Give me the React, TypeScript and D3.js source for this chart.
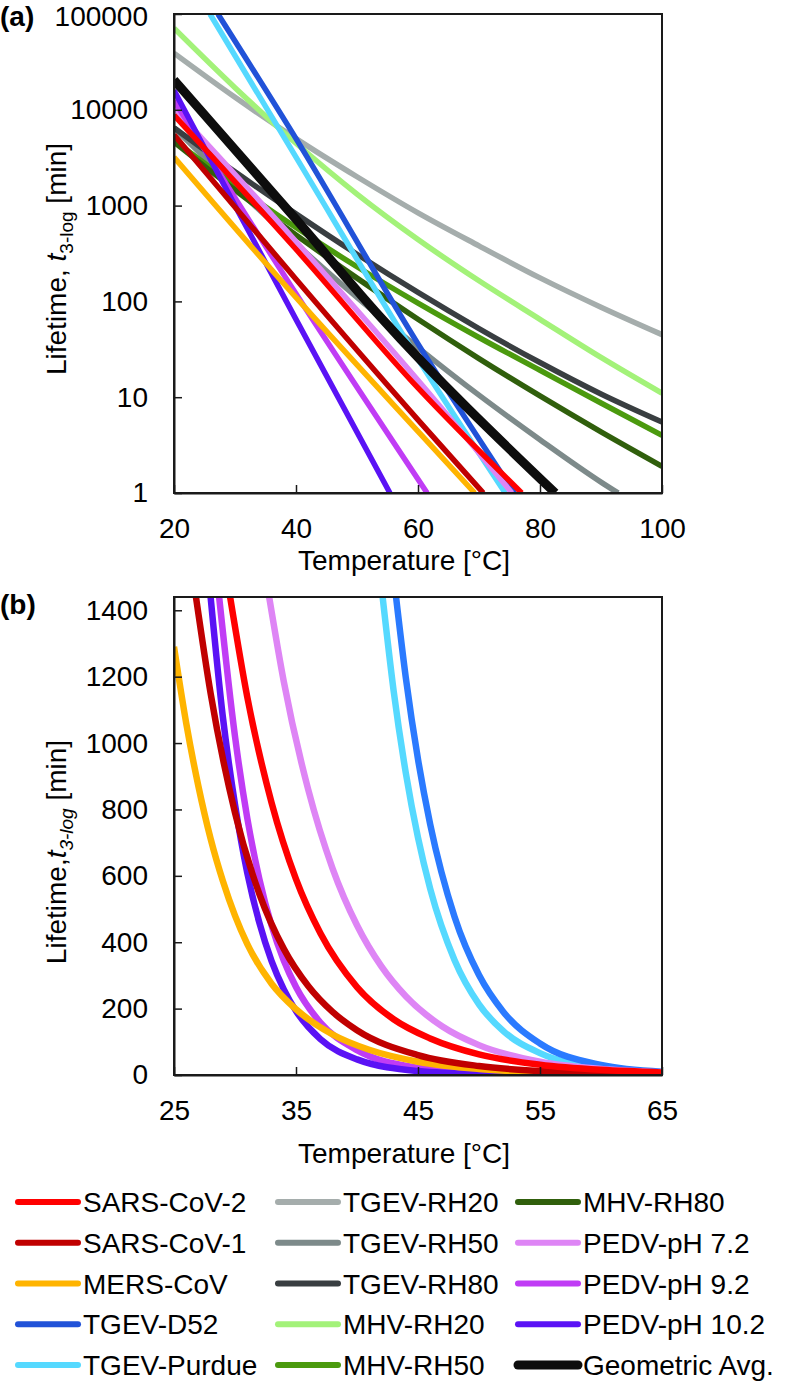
import React, { useEffect, useRef } from 'react';
import * as d3 from 'd3';

type Pt = [number, number];

const seriesNames = [
  'SARS-CoV-2', 'SARS-CoV-1', 'MERS-CoV', 'TGEV-D52', 'TGEV-Purdue',
  'TGEV-RH20', 'TGEV-RH50', 'TGEV-RH80', 'MHV-RH20', 'MHV-RH50',
  'MHV-RH80', 'PEDV-pH 7.2', 'PEDV-pH 9.2', 'PEDV-pH 10.2', 'Geometric Avg.',
];
const seriesColors = [
  '#ff0000', '#c00000', '#ffb400', '#2152d8', '#55d9ff',
  '#a5adac', '#7d8a8a', '#393e41', '#a3f279', '#4b9a0e',
  '#305f0c', '#de85f5', '#c03cf5', '#5a12f5', '#0d0d0d',
];

// panel (a): [temperature °C, lifetime min], log axis
const sarsCoV2A: Pt[] = [[20, 8800], [40, 350], [60, 12.5], [77, 1]];
const sarsCoV1A: Pt[] = [[20, 5500], [40, 170], [60, 5.8], [70.7, 1]];
const mersA: Pt[] = [[20, 3200], [40, 110], [60, 4.4], [69.3, 1]];
const tgevD52A: Pt[] = [[27.2, 100000], [40, 5000], [60, 36], [75.8, 1]];
const tgevPurdueA: Pt[] = [[25.9, 100000], [40, 3200], [60, 25], [74.3, 1]];
const tgevRH20A: Pt[] = [[20, 39000], [30, 13500], [40, 5000], [50, 2000], [60, 840], [70, 380], [80, 176], [90, 87], [100, 45]];
const tgevRH50A: Pt[] = [[20, 6500], [30, 1560], [40, 400], [50, 110], [60, 33], [70, 10.5], [80, 3.6], [90, 1.3], [92.8, 1]];
const tgevRH80A: Pt[] = [[20, 6500], [30, 2250], [40, 820], [50, 311], [60, 124], [70, 52], [80, 23], [90, 10.8], [100, 5.5]];
const mhvRH20A: Pt[] = [[20, 71000], [30, 17000], [40, 4480], [50, 1320], [60, 443], [70, 164], [80, 65], [90, 26], [100, 11]];
const mhvRH50A: Pt[] = [[20, 4800], [30, 1625], [40, 590], [50, 230], [60, 96], [70, 42], [80, 19.1], [90, 8.7], [100, 4]];
const mhvRH80A: Pt[] = [[20, 4600], [30, 1455], [40, 493], [50, 175], [60, 65], [70, 25.3], [80, 10.3], [90, 4.35], [100, 1.9]];
const pedv72A: Pt[] = [[20, 10500], [40, 420], [60, 15], [75.4, 1]];
const pedv92A: Pt[] = [[20, 12500], [40, 120], [61.5, 1]];
const pedv102A: Pt[] = [[20, 16000], [30, 1000], [40, 65], [55.4, 1]];
const geoAvgA: Pt[] = [[20, 20500], [40, 720], [53.8, 69], [82.5, 1]];

const panelA = [sarsCoV2A, sarsCoV1A, mersA, tgevD52A, tgevPurdueA, tgevRH20A, tgevRH50A,
  tgevRH80A, mhvRH20A, mhvRH50A, mhvRH80A, pedv72A, pedv92A, pedv102A, geoAvgA];
const orderA = [5, 6, 7, 8, 9, 10, 4, 3, 11, 12, 13, 2, 1, 0, 14];

// panel (b): linear axis
const sarsCoV2B: Pt[] = [[29.6, 1440], [31, 1140], [33, 820], [35, 590], [37, 427], [40, 265], [43, 168], [46, 110], [50, 62], [55, 31], [60, 15.5], [65, 7.7]];
const sarsCoV1B: Pt[] = [[26.8, 1440], [28, 1150], [30, 790], [32, 545], [34, 380], [36, 268], [38, 190], [40, 135], [45, 60], [50, 27], [55, 12], [60, 5.5], [65, 2.5]];
const mersB: Pt[] = [[25, 1290], [26, 1060], [27, 870], [28, 712], [29, 585], [30, 480], [31, 395], [33, 275], [35, 198], [38, 122], [41, 76], [45, 40], [50, 18], [55, 8.2], [60, 3.7], [65, 1.7]];
const tgevD52B: Pt[] = [[43.2, 1440], [44, 1197], [45, 951], [46, 755], [48, 476], [50, 301], [52, 190], [55, 95], [60, 30], [65, 9.5]];
const tgevPurdueB: Pt[] = [[42.1, 1440], [43, 1158], [44, 910], [45, 715], [46, 561], [48, 346], [50, 213], [52, 132], [55, 66], [60, 21], [65, 7]];
const pedv72B: Pt[] = [[32.8, 1440], [34, 1185], [36, 860], [38, 622], [40, 451], [42, 327], [44, 237], [47, 146], [50, 90], [55, 40], [60, 18], [65, 8]];
const pedv92B: Pt[] = [[28.7, 1440], [30, 1020], [31, 775], [32, 590], [33, 450], [34, 345], [35, 265], [37, 158], [40, 75], [45, 22], [50, 6.8], [55, 2.1], [60, 0.65], [65, 0.2]];
const pedv102B: Pt[] = [[28, 1440], [29, 1080], [30, 815], [31, 610], [32, 458], [33, 343], [34, 258], [35, 193], [37, 108], [40, 47], [45, 12], [50, 3], [55, 0.8], [60, 0.2], [65, 0.05]];

const panelB: [number, Pt[]][] = [
  [4, tgevPurdueB], [3, tgevD52B], [11, pedv72B], [12, pedv92B], [13, pedv102B],
  [2, mersB], [1, sarsCoV1B], [0, sarsCoV2B],
];
const colorB: Record<number, string> = { 3: '#2a7aff' };

const FONT = "'Liberation Sans', Arial, sans-serif";
const AXIS = '#1a1a1a';

function styleAxis(g: d3.Selection<SVGGElement, unknown, null, undefined>) {
  g.attr('font-size', 28).attr('font-family', FONT);
  g.select('.domain').attr('stroke', AXIS).attr('stroke-width', 2);
  g.selectAll('.tick line').attr('stroke', AXIS).attr('stroke-width', 1.5);
  g.selectAll('.tick text').attr('fill', '#000');
}

function yLabel(svg: any, x: number, y: number, italicSub: boolean, sep: string) {
  const t = svg.append('text')
    .attr('transform', `translate(${x},${y}) rotate(-90)`)
    .attr('text-anchor', 'middle').attr('font-size', 28).attr('font-family', FONT);
  t.append('tspan').text('Lifetime,' + sep);
  t.append('tspan').attr('font-style', 'italic').text('t');
  t.append('tspan').attr('font-size', 19).attr('dy', 7)
    .attr('font-style', italicSub ? 'italic' : 'normal').text('3-log');
  t.append('tspan').attr('dy', -7).text(' [min]');
}

export default function App() {
  const ref = useRef<SVGSVGElement>(null);

  useEffect(() => {
    const svg = d3.select(ref.current);
    svg.selectAll('*').remove();
    const defs = svg.append('defs');

    // ---------- panel (a)
    const xA = d3.scaleLinear().domain([20, 100]).range([174, 662]);
    const yA = d3.scaleLog().domain([1, 100000]).range([493, 14]);
    defs.append('clipPath').attr('id', 'clipA').append('rect')
      .attr('x', 174).attr('y', 14).attr('width', 488).attr('height', 479);

    const lineA = d3.line<Pt>().x(d => xA(d[0])).y(d => yA(d[1])).curve(d3.curveMonotoneX);
    const gA = svg.append('g').attr('clip-path', 'url(#clipA)');
    orderA.forEach(i => {
      gA.append('path').attr('d', lineA(panelA[i]))
        .attr('fill', 'none').attr('stroke', seriesColors[i])
        .attr('stroke-width', i === 14 ? 9 : 5.5);
    });

    svg.append('rect').attr('x', 174).attr('y', 14).attr('width', 488).attr('height', 479)
      .attr('fill', 'none').attr('stroke', AXIS).attr('stroke-width', 2);
    svg.append('g').attr('transform', 'translate(0,493)')
      .call(d3.axisBottom(xA).tickValues([20, 40, 60, 80, 100]).tickSize(-8).tickSizeOuter(0).tickPadding(25))
      .call(styleAxis);
    const yAxisA = svg.append('g').attr('transform', 'translate(174,0)')
      .call(d3.axisLeft(yA).tickValues([1, 10, 100, 1000, 10000, 100000]).tickFormat(d3.format('d'))
        .tickSize(-8).tickSizeOuter(0).tickPadding(26))
      .call(styleAxis);
    // keep the top label inside the picture
    yAxisA.selectAll<SVGTextElement, number>('.tick text').filter(d => d === 100000).attr('y', 3);

    svg.append('text').attr('x', 0).attr('y', 26).attr('font-size', 28).attr('font-weight', 'bold')
      .attr('font-family', FONT).text('(a)');
    svg.append('text').attr('x', 404).attr('y', 570).attr('text-anchor', 'middle')
      .attr('font-size', 28).attr('font-family', FONT).text('Temperature [°C]');
    yLabel(svg, 66, 259, false, ' ');

    // ---------- panel (b)
    const xB = d3.scaleLinear().domain([25, 65]).range([174, 662]);
    const yB = d3.scaleLinear().domain([0, 1440]).range([1075, 597]);
    defs.append('clipPath').attr('id', 'clipB').append('rect')
      .attr('x', 174).attr('y', 597).attr('width', 488).attr('height', 478);

    const lineB = d3.line<Pt>().x(d => xB(d[0])).y(d => yB(d[1])).curve(d3.curveMonotoneX);
    const gB = svg.append('g').attr('clip-path', 'url(#clipB)');
    panelB.forEach(([i, pts]) => {
      gB.append('path').attr('d', lineB(pts))
        .attr('fill', 'none').attr('stroke', colorB[i] || seriesColors[i])
        .attr('stroke-width', 6.5);
    });

    svg.append('rect').attr('x', 174).attr('y', 597).attr('width', 488).attr('height', 478)
      .attr('fill', 'none').attr('stroke', AXIS).attr('stroke-width', 2);
    svg.append('g').attr('transform', 'translate(0,1075)')
      .call(d3.axisBottom(xB).tickValues([25, 35, 45, 55, 65]).tickSize(-8).tickSizeOuter(0).tickPadding(25))
      .call(styleAxis);
    svg.append('g').attr('transform', 'translate(174,0)')
      .call(d3.axisLeft(yB).tickValues(d3.range(0, 1401, 200)).tickFormat(d3.format('d'))
        .tickSize(-8).tickSizeOuter(0).tickPadding(26))
      .call(styleAxis);

    svg.append('text').attr('x', 0).attr('y', 614).attr('font-size', 28).attr('font-weight', 'bold')
      .attr('font-family', FONT).text('(b)');
    svg.append('text').attr('x', 404).attr('y', 1163).attr('text-anchor', 'middle')
      .attr('font-size', 28).attr('font-family', FONT).text('Temperature [°C]');
    yLabel(svg, 66, 852, true, '');

    // ---------- legend (3 columns x 5 rows)
    const colX = [18, 278, 518];
    const rowY = d3.scaleLinear().domain([0, 4]).range([1202, 1365]);
    seriesNames.forEach((name, i) => {
      const c = Math.floor(i / 5), r = i % 5;
      const g = svg.append('g').attr('transform', `translate(${colX[c]},${rowY(r)})`);
      g.append('line').attr('x1', 0).attr('x2', 60).attr('y1', 0).attr('y2', 0)
        .attr('stroke', seriesColors[i]).attr('stroke-width', i === 14 ? 9 : 6)
        .attr('stroke-linecap', 'round');
      g.append('text').attr('x', 65).attr('y', 10).attr('font-size', 28)
        .attr('font-family', FONT).text(name);
    });
  }, []);

  return (
    <svg ref={ref} width={787} height={1386}
      style={{ position: 'absolute', left: 0, top: 0, background: '#fff' }} />
  );
}
